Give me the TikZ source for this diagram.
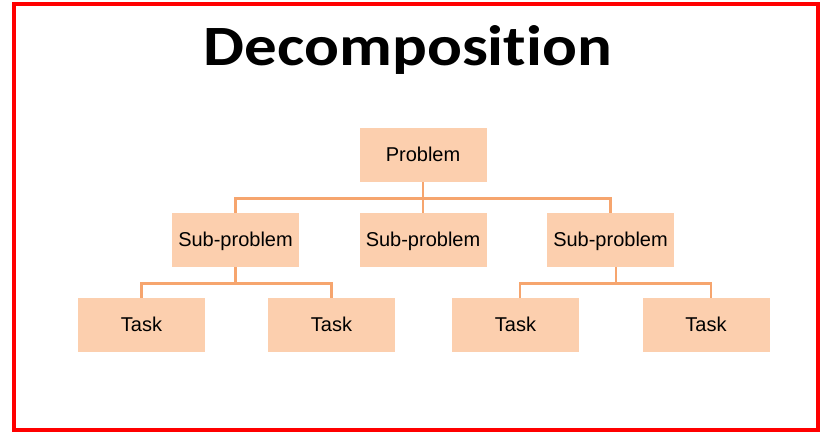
\documentclass[tikz,border=0pt]{standalone}
\usepackage{fontspec}
\setmainfont{Liberation Sans}
\newfontfamily\titlefont[Ligatures=CommonOff]{Carlito}
\definecolor{boxpeach}{HTML}{FCCFAE}
\definecolor{linkorange}{HTML}{F6A56E}
\begin{document}
\begin{tikzpicture}[x=1pt,y=-1pt,
	blk/.style={fill=boxpeach, minimum width=127pt, minimum height=54pt, inner sep=0pt,
		text height=15pt, text depth=3pt, font=\fontsize{20}{24}\selectfont},
	link/.style={draw=linkorange, line width=2.8pt}]
	\useasboundingbox (0,0) rectangle (821,432);
	\draw [red, line width=4pt] (14,4) rectangle (818,430);
	\node (title) at (408,65) [anchor=base] {\scalebox{1.14}[1]{\titlefont\bfseries\fontsize{57}{60}\selectfont Decomposition}};
	
	% top level
	\node (prob) at (423,155) [blk] {Problem};
	
	% sub-problems
	\node (sub1) at (235.5,240) [blk] {Sub-problem};
	\node (sub2) at (423,240) [blk] {Sub-problem};
	\node (sub3) at (610.5,240) [blk] {Sub-problem};
	
	% tasks
	\node (task1) at (141.5,325) [blk] {Task};
	\node (task2) at (331.5,325) [blk] {Task};
	\node (task3) at (515.5,325) [blk] {Task};
	\node (task4) at (706,325) [blk] {Task};
	
	\coordinate (bar0) at (423,198.5);
	\coordinate (bar1) at (235.5,283.5);
	\coordinate (bar3) at (616,283.5);
	\draw [link] (prob.south) -- (bar0);
	\draw [link] (bar0) -| (sub1.north);
	\draw [link] (bar0) -| (sub3.north);
	\draw [link] (bar0) -- (sub2.north);
	\draw [link] (sub1.south) -- (bar1);
	\draw [link] (bar1) -| (task1.north);
	\draw [link] (bar1) -| (task2.north);
	\draw [link] ([xshift=5.5pt]sub3.south) -- (bar3);
	\draw [link] (bar3) -| ([xshift=4.5pt]task3.north);
	\draw [link] (bar3) -| ([xshift=5pt]task4.north);
\end{tikzpicture}
\end{document}
